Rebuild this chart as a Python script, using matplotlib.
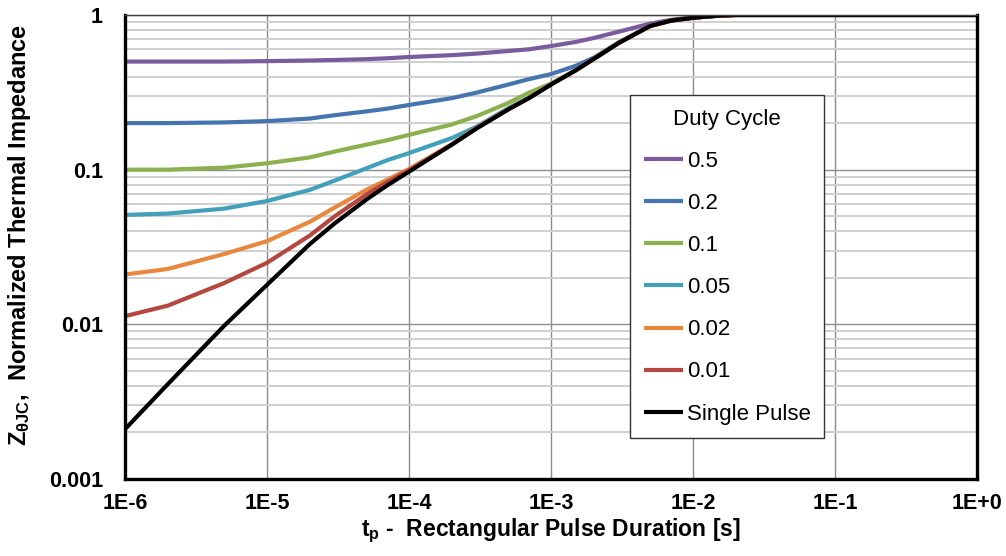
import matplotlib
matplotlib.use('Agg')
import matplotlib.pyplot as plt

# Data (pulse duration in s, normalized impedance)
t = [1e-6, 2e-6, 5e-6, 1e-5, 2e-5, 3e-5, 5e-5, 7e-5, 1e-4, 2e-4, 3e-4, 5e-4, 7e-4,
     1e-3, 1.5e-3, 2e-3, 3e-3, 5e-3, 7e-3, 1e-2, 1.5e-2, 2e-2, 5e-2, 1e-1, 1.0]

z_05 = [0.50, 0.50, 0.50, 0.503, 0.508, 0.512, 0.518, 0.525, 0.535, 0.55, 0.563, 0.585, 0.60,
        0.63, 0.67, 0.71, 0.78, 0.88, 0.93, 0.965, 0.99, 1.0, 1.0, 1.0, 1.0]
z_02 = [0.20, 0.20, 0.202, 0.206, 0.214, 0.225, 0.238, 0.248, 0.262, 0.29, 0.315, 0.355, 0.385,
        0.415, 0.47, 0.53, 0.665, 0.85, 0.92, 0.96, 0.99, 1.0, 1.0, 1.0, 1.0]
z_01 = [0.10, 0.10, 0.103, 0.11, 0.12, 0.131, 0.145, 0.155, 0.168, 0.196, 0.222, 0.27, 0.315,
        0.36, 0.44, 0.52, 0.66, 0.85, 0.92, 0.96, 0.99, 1.0, 1.0, 1.0, 1.0]
z_005 = [0.051, 0.052, 0.056, 0.0627, 0.074, 0.085, 0.102, 0.115, 0.128, 0.16, 0.19, 0.25, 0.293,
         0.356, 0.44, 0.52, 0.66, 0.85, 0.92, 0.96, 0.99, 1.0, 1.0, 1.0, 1.0]
z_002 = [0.021, 0.0228, 0.0285, 0.0345, 0.046, 0.057, 0.074, 0.086, 0.101, 0.146, 0.187, 0.246, 0.291,
         0.356, 0.44, 0.52, 0.66, 0.85, 0.92, 0.96, 0.99, 1.0, 1.0, 1.0, 1.0]
z_001 = [0.0113, 0.0132, 0.0185, 0.025, 0.0375, 0.050, 0.069, 0.083, 0.099, 0.145, 0.186, 0.246, 0.291,
         0.356, 0.44, 0.52, 0.66, 0.85, 0.92, 0.96, 0.99, 1.0, 1.0, 1.0, 1.0]
z_single = [0.0021, 0.0041, 0.0098, 0.018, 0.033, 0.045, 0.064, 0.079, 0.097, 0.145, 0.185, 0.245, 0.29,
            0.355, 0.44, 0.52, 0.66, 0.85, 0.92, 0.96, 0.99, 1.0, 1.0, 1.0, 1.0]

labels = ['0.5', '0.2', '0.1', '0.05', '0.02', '0.01', 'Single Pulse']
colors = ['#7A5C9E', '#4674AE', '#8DB04E', '#42A0BA', '#E8873E', '#B4473F', '#000000']

x_ticks = [1e-6, 1e-5, 1e-4, 1e-3, 1e-2, 1e-1, 1.0]
x_ticklabels = ['1E-6', '1E-5', '1E-4', '1E-3', '1E-2', '1E-1', '1E+0']
y_ticks = [0.001, 0.01, 0.1, 1.0]
y_ticklabels = ['0.001', '0.01', '0.1', '1']

plt.rcParams['font.family'] = ['Liberation Sans', 'DejaVu Sans']
plt.rcParams['mathtext.fontset'] = 'custom'
plt.rcParams['mathtext.rm'] = 'Liberation Sans:bold'
plt.rcParams['mathtext.it'] = 'Liberation Sans:bold'
plt.rcParams['mathtext.bf'] = 'Liberation Sans:bold'

fig = plt.figure(figsize=(10.06, 5.56), dpi=100)
ax = fig.add_axes([125 / 1006, 77 / 556, 852 / 1006, 464 / 556])

series = [z_05, z_02, z_01, z_005, z_002, z_001, z_single]
for z, lab, c in zip(series, labels, colors):
    ax.plot(t, z, color=c, lw=3, label=lab, solid_capstyle='butt', solid_joinstyle='round')

ax.set_xscale('log')
ax.set_yscale('log')
ax.set_xlim(1e-6, 1)
ax.set_ylim(0.001, 1)

ax.set_xticks(x_ticks)
ax.set_xticklabels(x_ticklabels)
ax.set_yticks(y_ticks)
ax.set_yticklabels(y_ticklabels)
ax.xaxis.set_minor_locator(matplotlib.ticker.NullLocator())
ax.yaxis.set_minor_locator(matplotlib.ticker.LogLocator(base=10, subs=range(2, 10)))
ax.yaxis.set_minor_formatter(matplotlib.ticker.NullFormatter())
ax.tick_params(which='both', length=0)
ax.tick_params(axis='x', pad=10, labelsize=15.5)
ax.tick_params(axis='y', pad=16, labelsize=15.5)
for lbl in ax.get_xticklabels() + ax.get_yticklabels():
    lbl.set_fontweight('bold')

ax.grid(True, which='major', axis='both', color='#8c8c8c', lw=1)
ax.grid(True, which='minor', axis='y', color='#cfcfcf', lw=1.4)
ax.set_axisbelow(True)

for side in ['left', 'bottom', 'right']:
    ax.spines[side].set_linewidth(2.4)
    ax.spines[side].set_color('black')
ax.spines['top'].set_linewidth(1.0)
ax.spines['top'].set_color('#404040')

ax.set_xlabel(r't$_{\mathrm{p}}$ -  Rectangular Pulse Duration [s]', fontsize=16.5, fontweight='bold')
ax.xaxis.set_label_coords(0.5, -0.08)
ax.set_ylabel(r'Z$_{\theta\mathrm{JC}}$,  Normalized Thermal Impedance', fontsize=17, fontweight='bold')
ax.yaxis.set_label_coords(-0.108, 0.525)

leg = ax.legend(title='Duty Cycle', loc='upper left',
                bbox_to_anchor=(630 / 1006, 1 - 95 / 556), bbox_transform=fig.transFigure,
                fontsize=16, title_fontsize=16, frameon=True, fancybox=False,
                edgecolor='#333333', framealpha=1, handlelength=1.75, handletextpad=0.18,
                labelspacing=0.95, borderpad=0.62, borderaxespad=0)
leg.get_frame().set_linewidth(1.0)

fig.savefig('out.png', dpi=100)
